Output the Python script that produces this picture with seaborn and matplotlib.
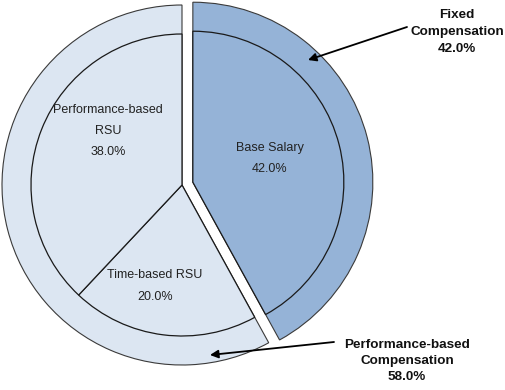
import numpy as np
import seaborn as sns
import matplotlib.pyplot as plt

# outer ring: compensation type
outer_labels = ['Fixed\nCompensation', 'Performance-based\nCompensation']
outer_values = [42.0, 58.0]

# inner pie: components (clockwise from 12 o'clock)
inner_labels = ['Base Salary', 'Time-based RSU', 'Performance-based\nRSU']
inner_values = [42.0, 20.0, 38.0]

dark = '#95b3d7'
light = '#dce6f2'

sns.set_style('white')
plt.rcParams['font.family'] = ['Liberation Sans', 'DejaVu Sans']

fig = plt.figure(figsize=(5.06, 3.90), dpi=100)
ax = fig.add_axes([0, 0, 1, 1])

center = (182, 205)
r_out, r_in = 180, 151
shift = 11.2  # explode offset in data units

ax.pie(outer_values, colors=[dark, light], radius=r_out, center=center,
       startangle=90, counterclock=False, explode=[shift, 0],
       wedgeprops=dict(edgecolor='#3a3a3a', linewidth=0.8), frame=True)
ax.pie(inner_values, colors=[dark, light, light], radius=r_in, center=center,
       startangle=90, counterclock=False, explode=[shift, 0, 0],
       wedgeprops=dict(edgecolor='#1a1a1a', linewidth=0.9), frame=True)
ax.set_xlim(0, 506)
ax.set_ylim(0, 390)
ax.set_aspect('equal')
ax.axis('off')

# inner labels
inner_pos = [(270, 231), (155, 104), (108, 259)]
for lab, val, (x, y) in zip(inner_labels, inner_values, inner_pos):
    ax.text(x, y, f'{lab}\n{val:.1f}%', ha='center', va='center',
            fontsize=9, color='#222222', linespacing=2.0)

# outer annotations
heads = [(308, 330), (210, 35)]
tails = [(407, 363), (334, 48)]
text_pos = [(457, 358), (407, 29)]
for lab, val, h, t, p in zip(outer_labels, outer_values, heads, tails, text_pos):
    ax.annotate('', xy=h, xytext=t,
                arrowprops=dict(arrowstyle='-|>', color='black', lw=1.3,
                                mutation_scale=12, shrinkA=0, shrinkB=0))
    ax.text(p[0], p[1], f'{lab}\n{val:.1f}%', ha='center', va='center',
            fontsize=9.7, fontweight='bold', color='#111111', linespacing=1.5)

fig.savefig('out.png', dpi=100)
